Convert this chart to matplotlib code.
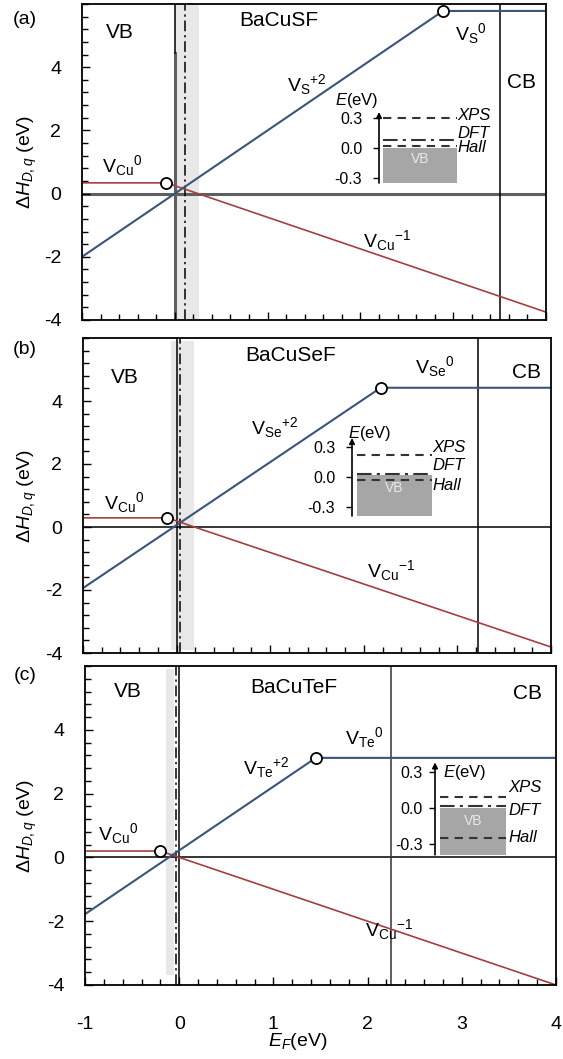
import matplotlib
matplotlib.use('Agg')
import matplotlib.pyplot as plt
from matplotlib.ticker import MultipleLocator, FixedLocator
from matplotlib.patches import Rectangle

plt.rcParams['font.family'] = ['Liberation Sans', 'DejaVu Sans']
plt.rcParams['mathtext.fontset'] = 'custom'
plt.rcParams['mathtext.rm'] = 'Liberation Sans'
plt.rcParams['mathtext.it'] = 'Liberation Sans:italic'
plt.rcParams['mathtext.bf'] = 'Liberation Sans:bold'
plt.rcParams['axes.unicode_minus'] = False

W, H = 563, 1059

# ---- data ----
panel_tags = ['(a)', '(b)', '(c)']
compounds = ['BaCuSF', 'BaCuSeF', 'BaCuTeF']
anions = ['S', 'Se', 'Te']

# V_Cu line (0 then -1), breakpoints
vcu_x = [[-1, -0.09, 4], [-1, -0.10, 4], [-1, -0.20, 4]]
vcu_y = [[0.34, 0.34, -3.75], [0.29, 0.29, -3.81], [0.20, 0.20, -4.00]]
# V_anion line (+2 then 0), breakpoints
van_x = [[-1, 2.89, 4], [-1, 2.18, 4], [-1, 1.45, 4]]
van_y = [[-2.00, 5.78, 5.78], [-1.94, 4.42, 4.42], [-1.78, 3.12, 3.12]]

vbm_x = [0.0, 0.0, 0.0]
dft_x = [0.11, 0.04, -0.03]
shade_lo = [0.0, -0.06, -0.14]
shade_hi = [0.26, 0.19, -0.055]
cb_x = [3.50, 3.22, 2.25]

# inset levels (eV)
xps = [0.30, 0.22, 0.09]
dft = [0.08, 0.03, 0.02]
hall = [0.02, -0.03, -0.25]

# ---- layout (pixels) ----
axes_px = [(82, 4, 546, 320), (83, 338, 551, 653), (85, 666, 556, 985)]
# arrow x, zero y, px per eV, width, ylo, yhi, rect start, rect top, tick pad
inset_px = [(379, 148, 100, 78, -0.35, 0.36, 0.05, 0.0, 8),
            (352, 477, 100, 80, -0.39, 0.39, 0.06, 0.02, 8),
            (435, 808, 120, 71, -0.39, 0.38, 0.07, 0.0, 5)]
lab_xyz = [(0.32, 0.15, 0.0), (0.30, 0.12, -0.08), (0.17, -0.02, -0.25)]
lab_x = [1.0, 1.0, 1.03]
e_lab = [(-0.56, 0.48), (-0.05, 0.44), (0.11, 0.30)]
tag_y = [20, 350, 675]

# text positions in data coords
t_vcu0 = [(-0.78, 0.9), (-0.78, 0.79), (-0.86, 0.76)]
t_van2 = [(1.21, 3.44), (0.79, 3.17), (0.68, 2.83)]
t_van0 = [(3.02, 5.08), (2.55, 5.08), (1.76, 3.77)]
t_vcu1 = [(2.03, -1.47), (2.03, -1.37), (1.97, -2.27)]
t_vb = [(-0.59, 5.11), (-0.55, 4.76), (-0.55, 5.2)]
t_name = [(1.12, 5.49), (1.22, 5.46), (1.22, 5.33)]
t_cb = [(3.74, 3.53), (3.74, 4.89), (3.70, 5.15)]

red = '#a3403f'
blue = '#3b5479'

fig = plt.figure(figsize=(W / 100, H / 100), dpi=100)

for i in range(3):
    l, t, r, b = axes_px[i]
    ax = fig.add_axes([l / W, 1 - b / H, (r - l) / W, (b - t) / H])
    ax.set_xlim(-1, 4)
    ax.set_ylim(-4, 6)

    ytop = [6, 5.9, 5.9][i]
    ybot = [-4, -3.9, -3.7][i]
    ax.fill_between([shade_lo[i], shade_hi[i]], ybot, ytop, color='#e8e8e8', lw=0, zorder=0)

    if i == 0:
        ax.axhline(0, color='#5f5f5f', lw=2.2, zorder=1)
        ax.plot([vbm_x[i], vbm_x[i]], [-4, 4.45], color='#5f5f5f', lw=2.2, zorder=1)
        ax.plot([vbm_x[i], vbm_x[i]], [4.45, 6], color='black', lw=1.1, zorder=1)
    else:
        ax.axhline(0, color='black', lw=1.1, zorder=1)
        ax.axvline(vbm_x[i], color='black', lw=1.1, zorder=1)
    ax.axvline(dft_x[i], color='black', lw=1.1, dashes=(7, 2.5, 1.5, 2.5), zorder=1)
    cb_col = 'black' if i < 2 else '#333333'
    ax.axvline(cb_x[i], color=cb_col, lw=1.1, zorder=1)

    ax.plot(vcu_x[i], vcu_y[i], color=red, lw=1.2, zorder=2)
    ax.plot(van_x[i], van_y[i], color=blue, lw=1.5, zorder=2)
    ax.plot([vcu_x[i][1]], [vcu_y[i][1]], 'o', ms=8, mfc='white', mec='black', mew=1.3, zorder=3)
    ax.plot([van_x[i][1]], [van_y[i][1]], 'o', ms=8, mfc='white', mec='black', mew=1.3, zorder=3,
            clip_on=False)

    ax.text(*t_vcu0[i], r'V$_{\rm Cu}$$^{0}$', fontsize=14, ha='left', va='center')
    ax.text(*t_van2[i], r'V$_{\rm %s}$$^{+2}$' % anions[i], fontsize=14, ha='left', va='center')
    ax.text(*t_van0[i], r'V$_{\rm %s}$$^{0}$' % anions[i], fontsize=14, ha='left', va='center')
    ax.text(*t_vcu1[i], r'V$_{\rm Cu}$$^{-1}$', fontsize=14, ha='left', va='center')
    ax.text(*t_vb[i], 'VB', fontsize=15, ha='center', va='center')
    ax.text(*t_name[i], compounds[i], fontsize=15, ha='center', va='center')
    ax.text(*t_cb[i], 'CB', fontsize=15, ha='center', va='center')

    ax.xaxis.set_major_locator(MultipleLocator(1))
    ax.xaxis.set_minor_locator(MultipleLocator(0.2))
    ax.yaxis.set_major_locator(FixedLocator([-4, -2, 0, 2, 4]))
    ax.yaxis.set_minor_locator(MultipleLocator(0.4))
    ax.tick_params(which='both', direction='in', width=1.0, top=False, right=False,
                   labelsize=14)
    ax.tick_params(which='major', length=6)
    ax.tick_params(which='minor', length=4)
    ax.tick_params(axis='y', pad=15)
    ax.tick_params(axis='x', pad=22)
    if i < 2:
        ax.tick_params(axis='x', labelbottom=False)
    for s in ax.spines.values():
        s.set_linewidth(1.3)

    fig.text(25 / W, 1 - tag_y[i] / H, panel_tags[i], fontsize=14, ha='center', va='center')
    fig.text(27 / W, 1 - (t + b) / 2 / H, r'$\Delta H_{D,q}$ (eV)', fontsize=14,
             rotation=90, ha='center', va='center')

    # inset: band edge positions
    x0, y0, s, w, lo, hi, rs, rt, tp = inset_px[i]
    ins = fig.add_axes([x0 / W, 1 - (y0 - lo * s) / H, w / W, (hi - lo) * s / H])
    ins.set_xlim(0, 1)
    ins.set_ylim(lo, hi)
    ins.patch.set_alpha(0)
    for sp in ins.spines.values():
        sp.set_visible(False)
    ins.set_xticks([])
    ins.set_yticks([-0.3, 0.0, 0.3])
    ins.set_yticklabels(['-0.3', '0.0', '0.3'])
    ins.tick_params(axis='y', direction='out', length=4, width=1.0, labelsize=11.5, pad=tp)
    ins.add_patch(Rectangle((rs, lo), 1 - rs, rt - lo, color='#a6a6a6', lw=0))
    ins.annotate('', xy=(0, hi), xytext=(0, lo),
                 arrowprops=dict(arrowstyle='-|>', color='black', lw=1.2,
                                 mutation_scale=8, shrinkA=0, shrinkB=0))
    ins.plot([rs, 1], [xps[i], xps[i]], color='#333333', lw=1.5, dashes=(4, 3))
    ins.plot([rs, 1], [dft[i], dft[i]], color='#333333', lw=1.5, dashes=(7, 2.5, 1.5, 2.5))
    ins.plot([rs, 1], [hall[i], hall[i]], color='#333333', lw=1.5, dashes=(4, 3))
    ly = lab_xyz[i]
    for yy, name in zip(ly, ['XPS', 'DFT', 'Hall']):
        ins.text(lab_x[i], yy, name, fontsize=12, style='italic', ha='left', va='center',
                 clip_on=False)
    ins.text(e_lab[i][0], e_lab[i][1], r'$E$(eV)', fontsize=12, ha='left', va='center',
             clip_on=False)
    ins.text((rs + 1) / 2, -0.11, 'VB', fontsize=10, color='#e8e8e8', ha='center', va='center')

fig.text(298 / W, 1 - 1042 / H, r'$E_F$(eV)', fontsize=14, ha='center', va='center')

plt.savefig('out.png', dpi=100)
